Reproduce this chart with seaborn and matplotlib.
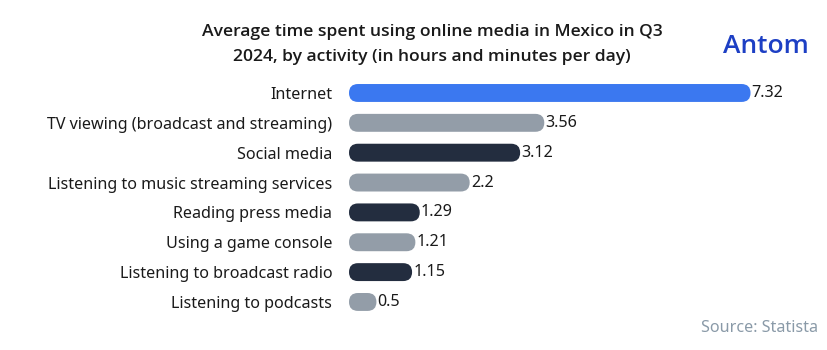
import matplotlib
matplotlib.use("Agg")
import matplotlib.pyplot as plt
import seaborn as sns
import pandas as pd
from matplotlib.patches import FancyBboxPatch

categories = ["Internet", "TV viewing (broadcast and streaming)", "Social media",
              "Listening to music streaming services", "Reading press media",
              "Using a game console", "Listening to broadcast radio", "Listening to podcasts"]
values = [7.32, 3.56, 3.12, 2.2, 1.29, 1.21, 1.15, 0.5]
value_labels = ["7.32", "3.56", "3.12", "2.2", "1.29", "1.21", "1.15", "0.5"]
bar_colors = ["#3b78f0", "#939da8", "#232d3f", "#939da8", "#232d3f", "#939da8", "#232d3f", "#939da8"]

title_lines = ["Average time spent using online media in Mexico in Q3",
               "2024, by activity (in hours and minutes per day)"]

sns.set_theme(style="white")
plt.rcParams['font.family'] = ['Noto Sans', 'DejaVu Sans']

df = pd.DataFrame({"cat": categories, "val": values})
fig = plt.figure(figsize=(8.28, 3.5), dpi=100)
ax = fig.add_axes([0.4215, 0.0946, 0.53, 0.6824])
sns.barplot(data=df, x="val", y="cat", hue="cat", palette=bar_colors, legend=False,
            width=0.6, ax=ax, saturation=1)
ax.set_xlim(0, 8)
ax.set_ylim(7.5, -0.5)
for s in ax.spines.values():
    s.set_visible(False)
ax.set_xticks([])
ax.set_xlabel("")
ax.set_ylabel("")
ax.tick_params(axis="y", length=0, pad=12, labelsize=11.6, labelcolor="#1a1a1a")

fig.canvas.draw()
p0 = ax.transData.transform((0, 0))
p1 = ax.transData.transform((1, 1))
px_x = abs(p1[0] - p0[0])
px_y = abs(p1[1] - p0[1])

patches = list(ax.patches)
for p in patches:
    x, y = p.get_x(), p.get_y()
    w, h = p.get_width(), p.get_height()
    fc = p.get_facecolor()
    p.set_visible(False)
    r_px = h * px_y / 2
    fb = FancyBboxPatch((x, y), w, h,
                        boxstyle=f"round,pad=0,rounding_size={r_px / px_x:.5f}",
                        mutation_aspect=px_x / px_y,
                        facecolor=fc, edgecolor="none")
    ax.add_patch(fb)

for i, (v, lab) in enumerate(zip(values, value_labels)):
    ax.text(v + 0.02, i, lab, va="center", ha="left", fontsize=11.6, color="#1a1a1a")

for yy, line in zip([1 - 32 / 350, 1 - 57 / 350], title_lines):
    fig.text(0.522, yy, line, ha="center", va="center", fontsize=12.6,
             color="#1a1a1a", fontweight="semibold",
             family=["Open Sans", "Noto Sans", "DejaVu Sans"])
fig.text(0.977, 0.868, "Antom", ha="right", va="center", fontsize=19,
         fontweight="semibold", color="#1d3fc4", family=["Open Sans", "DejaVu Sans"])
fig.text(0.988, 0.063, "Source: Statista", ha="right", va="center", fontsize=11.6,
         color="#8a9aa8")

fig.savefig("out.png", dpi=100)
